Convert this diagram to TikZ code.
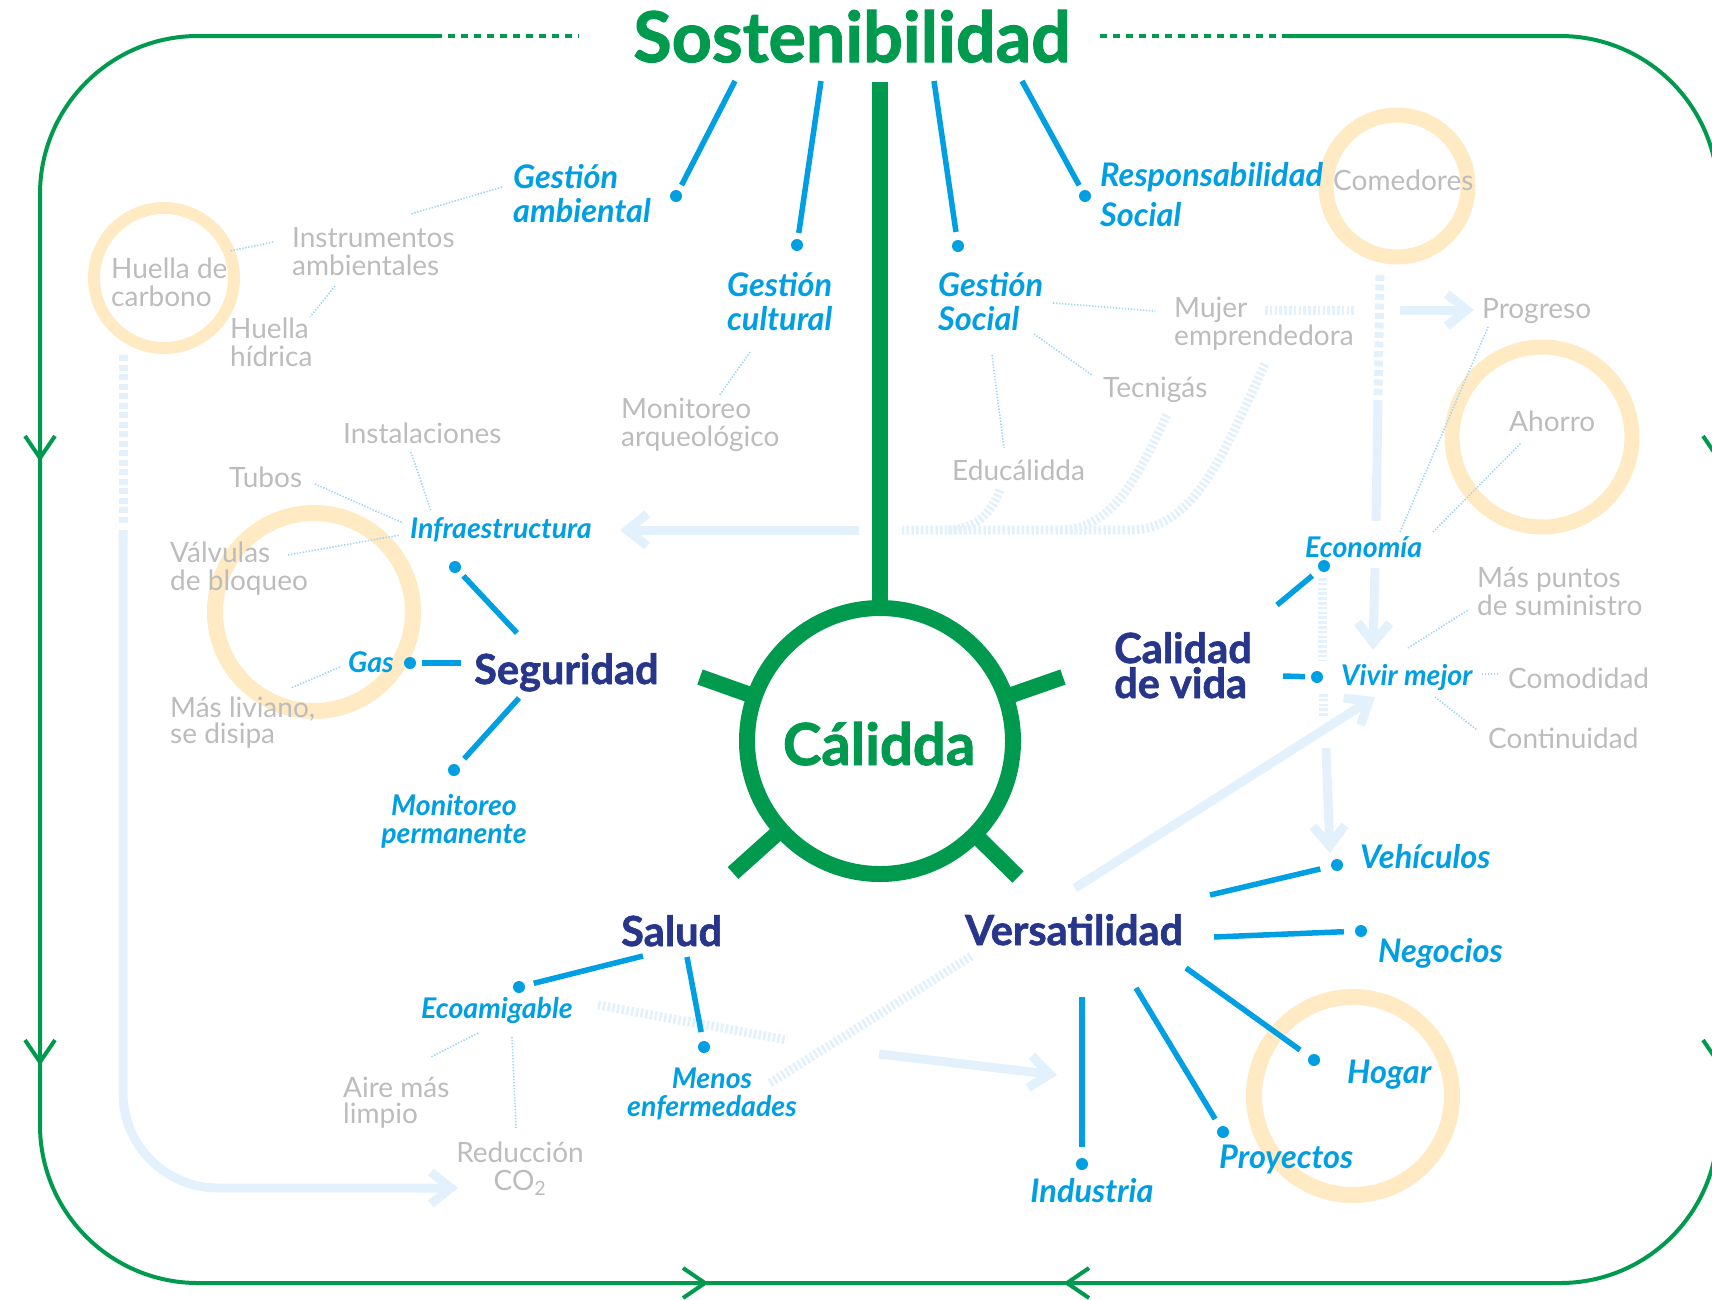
\documentclass[tikz,border=0pt]{standalone}
\usepackage{fontspec}
\setmainfont{Lato}
\newfontfamily\heavyfont{Lato}[BoldFeatures={FakeBold=1.5}]
\usetikzlibrary{calc,arrows.meta}

\definecolor{calgreen}{RGB}{0,154,78}
\definecolor{cyanb}{RGB}{0,158,226}
\definecolor{navy}{RGB}{39,54,139}
\definecolor{txtgray}{RGB}{188,188,188}
\definecolor{ringorange}{RGB}{255,234,196}
\definecolor{pale}{RGB}{226,241,252}
\definecolor{dotblue}{RGB}{160,214,243}

\newcommand\fgray{\fontsize{28}{28}\selectfont}
\newcommand\fblue{\fontsize{32.5}{34}\selectfont\bfseries\itshape}
\newcommand\fbluesm{\fontsize{28.5}{28}\selectfont\bfseries\itshape}
\newcommand\fnavy{\heavyfont\fontsize{41.5}{35}\selectfont\bfseries}
\newcommand\ftitle{\heavyfont\fontsize{70}{70}\selectfont\bfseries}
\newcommand\flogo{\heavyfont\fontsize{58}{58}\selectfont\bfseries}

\tikzset{
  frame/.style={draw=calgreen, line width=4pt},
  vtip/.style={frame, line join=miter, line cap=butt},
  spoke/.style={draw=calgreen, line width=16pt, line cap=butt},
  ring/.style={draw=ringorange},
  paleline/.style={draw=pale, line width=9pt},
  palehatch/.style={paleline, dash pattern=on 2.6pt off 2.2pt},
  paledash/.style={paleline, dash pattern=on 6pt off 3.5pt},
  palearrow/.style={paleline, -{Straight Barb[length=20pt,width=32pt]}},
  dotline/.style={draw=dotblue, line width=1.6pt, dash pattern=on 1.4pt off 1.6pt},
  bline/.style={draw=cyanb, line width=5.5pt, line cap=butt},
  bdot/.style={circle, fill=cyanb, inner sep=0pt, minimum size=12pt},
  graytxt/.style={font=\fgray, text=txtgray, inner sep=0pt, align=left, anchor=base west},
  bluetxt/.style={font=\fblue, text=cyanb, inner sep=0pt, align=left, anchor=base west},
  bluesm/.style={font=\fbluesm, text=cyanb, inner sep=0pt, align=left, anchor=base west},
  navytxt/.style={font=\fnavy, text=navy, inner sep=0pt, align=left, anchor=base west},
}

\begin{document}
\begin{tikzpicture}[x=1pt,y=-1pt]
\useasboundingbox (0,0) rectangle (1712,1299);
\clip (0,0) rectangle (1712,1299);

% ---------- soft orange rings ----------
\draw[ring, line width=12pt] (164,278) circle[radius=70];
\draw[ring, line width=16pt] (314,612) circle[radius=99];
\draw[ring, line width=15pt] (1397,186) circle[radius=71];
\draw[ring, line width=15pt] (1542,437) circle[radius=90];
\draw[ring, line width=16pt] (1353,1096) circle[radius=99];

% ---------- pale flow arrows ----------
\draw[paledash] (123,355) -- (123,525);
\draw[palearrow, rounded corners=95pt] (123,530) -- (123,1188) -- (458,1188);

\draw[palearrow] (859,530) -- (620,530);
\draw[palehatch] (1265,364) .. controls (1225,450) and (1195,530) .. (1130,530) -- (899,530);
\draw[palehatch] (1167,415) .. controls (1140,470) and (1115,530) .. (1060,530);
\draw[palehatch] (1000,490) .. controls (990,515) and (975,530) .. (945,530);

\draw[palehatch] (1265,310) -- (1355,310);
\draw[palearrow] (1400,310) -- (1474,310);

\draw[paledash] (1380,275) -- (1378,395);
\draw[paleline] (1378,400) -- (1376,521);
\draw[palearrow] (1375,568) -- (1373,650);

\draw[palehatch] (1322,578) -- (1322,660);
\draw[palehatch] (1323,694) -- (1323,716);

\draw[palearrow] (1075,888) -- (1375,697);
\draw[palearrow] (1326,748) -- (1330,853);

\draw[palehatch] (598,1005) -- (787,1040);
\draw[palehatch] (770,1083) -- (973,955);
\draw[palearrow] (879,1054) -- (1057,1075);

% ---------- outer cycle ----------
\draw[frame, rounded corners=158pt] (435,36) -- (40,36) -- (40,1283) -- (1718,1283) -- (1718,36) -- (1288,36);
\draw[frame, dash pattern=on 7pt off 6pt] (435,36) -- (579,36);
\draw[frame, dash pattern=on 7pt off 6pt] (1100,36) -- (1288,36);
\draw[vtip] (25,436) -- (40,458) -- (55,436);
\draw[vtip] (25,1040) -- (40,1062) -- (55,1040);
\draw[vtip] (1703,436) -- (1718,458) -- (1733,436);
\draw[vtip] (1703,1040) -- (1718,1062) -- (1733,1040);
\draw[vtip] (683,1268) -- (705,1283) -- (683,1298);
\draw[vtip] (1089,1268) -- (1067,1283) -- (1089,1298);

% ---------- titles ----------
\node[font=\ftitle, text=calgreen, anchor=base, inner sep=0pt] (title) at (852,62) {Sostenibilidad};
\node[font=\flogo, text=calgreen, anchor=base, inner sep=0pt] (logo) at (879,765) {Cálidda};

% ---------- central emblem ----------
\coordinate (C) at (880,741);
\coordinate (top) at (880,82);
\coordinate (sp1) at (700,677);
\coordinate (sp2) at (1063,677);
\coordinate (sp3) at (733,873);
\coordinate (sp4) at (1018,877);
\draw[calgreen, line width=16pt] (C) circle[radius=133];
\draw[spoke] (top) -- ($(C)!133pt!(top)$);
\foreach \s in {sp1,sp2,sp3,sp4} \draw[spoke] (\s) -- ($(C)!133pt!(\s)$);

% ---------- labels (base = last line) ----------
\node[bluetxt] (gamb) at (513,222) {Gestión\\ambiental};
\node[bluetxt] (gcult) at (727,330) {Gestión\\cultural};
\node[bluetxt] (gsoc) at (938,330) {Gestión\\Social};
\node[bluetxt, font=\fontsize{32.5}{40}\selectfont\bfseries\itshape] (rsoc) at (1100,226) {Responsabilidad\\Social};

\node[graytxt] (instr) at (292,275) {Instrumentos\\ambientales};
\node[graytxt] (hcarb) at (111,306) {Huella de\\carbono};
\node[graytxt] (hhid) at (230,366) {Huella\\hídrica};
\node[graytxt] (monarq) at (621,446) {Monitoreo\\arqueológico};
\node[graytxt] (instal) at (343,443) {Instalaciones};
\node[graytxt] (tubos) at (229,487) {Tubos};
\node[graytxt] (valv) at (170,590) {Válvulas\\de bloqueo};
\node[graytxt, font=\fontsize{28}{24}\selectfont] (masliv) at (170,743) {Más liviano,\\se disipa};
\node[graytxt] (comed) at (1333,190) {Comedores};
\node[graytxt] (mujer) at (1174,345) {Mujer\\emprendedora};
\node[graytxt] (progr) at (1482,318) {Progreso};
\node[graytxt] (tecni) at (1103,397) {Tecnigás};
\node[graytxt] (educ) at (952,480) {Educálidda};
\node[graytxt] (ahorro) at (1509,431) {Ahorro};
\node[graytxt] (maspun) at (1477,615) {Más puntos\\de suministro};
\node[graytxt] (comod) at (1508,688) {Comodidad};
\node[graytxt] (contin) at (1488,748) {Continuidad};
\node[graytxt, font=\fontsize{28}{26}\selectfont] (aire) at (343,1123) {Aire más\\limpio};
\node[graytxt, align=center, anchor=base] (reduc) at (520,1190) {Reducción\\CO\textsubscript{2}};

\node[bluesm] (infra) at (410,538) {Infraestructura};
\node[bluesm] (gas) at (348,672) {Gas};
\node[bluesm, align=center, anchor=base] (monperm) at (454,843) {Monitoreo\\permanente};
\node[bluesm] (econ) at (1305,557) {Economía};
\node[bluesm] (vivir) at (1341,685) {Vivir mejor};
\node[bluesm] (ecoam) at (421,1018) {Ecoamigable};
\node[bluesm, align=center, anchor=base] (menos) at (712,1116) {Menos\\enfermedades};

\node[bluetxt] (vehic) at (1360,868) {Vehículos};
\node[bluetxt] (negoc) at (1378,962) {Negocios};
\node[bluetxt] (hogar) at (1347,1083) {Hogar};
\node[bluetxt] (proy) at (1219,1168) {Proyectos};
\node[bluetxt, anchor=base] (indus) at (1092,1202) {Industria};

\node[navytxt] (segur) at (474,684) {Seguridad};
\node[navytxt] (calid) at (1114,698) {Calidad\\de vida};
\node[navytxt] (salud) at (621,946) {Salud};
\node[navytxt] (versat) at (965,945) {Versatilidad};

% ---------- dots ----------
\node[bdot] (dGA) at (676,196) {};
\node[bdot] (dGC) at (797,245) {};
\node[bdot] (dGS) at (958,246) {};
\node[bdot] (dRS) at (1085,196) {};
\node[bdot] (dInf) at (455,567) {};
\node[bdot] (dGas) at (410,663) {};
\node[bdot] (dMon) at (454,770) {};
\node[bdot] (dEcon) at (1324,566) {};
\node[bdot] (dViv) at (1317,677) {};
\node[bdot] (dVeh) at (1337,865) {};
\node[bdot] (dNeg) at (1361,931) {};
\node[bdot] (dHog) at (1314,1060) {};
\node[bdot] (dProy) at (1223,1132) {};
\node[bdot] (dInd) at (1082,1164) {};
\node[bdot] (dEco) at (519,987) {};
\node[bdot] (dMen) at (704,1047) {};

% ---------- blue branches ----------
\coordinate (s1) at (735,81);
\coordinate (s2) at (821,81);
\coordinate (s3) at (934,81);
\coordinate (s4) at (1022,81);
\draw[bline, shorten >=6pt] (s1) -- (dGA);
\draw[bline, shorten >=6pt] (s2) -- (dGC);
\draw[bline, shorten >=8pt] (s3) -- (dGS);
\draw[bline, shorten >=6pt] (s4) -- (dRS);

\coordinate (g1) at (517,633);
\coordinate (g2) at (461,663);
\coordinate (g3) at (519,698);
\draw[bline, shorten >=6pt] (g1) -- (dInf);
\draw[bline, shorten >=6pt] (g2) -- (dGas);
\draw[bline, shorten >=9pt] (g3) -- (dMon);

\coordinate (c1) at (1277,605);
\coordinate (c2) at (1283,676);
\draw[bline, shorten >=9pt] (c1) -- (dEcon);
\draw[bline, shorten >=6pt] (c2) -- (dViv);

\coordinate (v1) at (1210,895);
\coordinate (v2) at (1214,937);
\coordinate (v3) at (1186,968);
\coordinate (v4) at (1136,988);
\coordinate (v5) at (1082,997);
\draw[bline, shorten >=11pt] (v1) -- (dVeh);
\draw[bline, shorten >=11pt] (v2) -- (dNeg);
\draw[bline, shorten >=11pt] (v3) -- (dHog);
\draw[bline, shorten >=9pt] (v4) -- (dProy);
\draw[bline, shorten >=11pt] (v5) -- (dInd);

\coordinate (h1) at (643,956);
\coordinate (h2) at (687,957);
\draw[bline, shorten >=9pt] (h1) -- (dEco);
\draw[bline, shorten >=9pt] (h2) -- (dMen);

% ---------- fine dotted links ----------
\coordinate (a1) at (502,187);  \coordinate (b1) at (411,214);
\coordinate (a2) at (273,242);  \coordinate (b2) at (230,251);
\coordinate (a3) at (335,286);  \coordinate (b3) at (310,317);
\coordinate (a4) at (750,352);  \coordinate (b4) at (719,396);
\coordinate (a5) at (411,452);  \coordinate (b5) at (431,511);
\coordinate (a6) at (315,484);  \coordinate (b6) at (403,523);
\coordinate (a7) at (288,555);  \coordinate (b7) at (400,535);
\coordinate (a8) at (340,667);  \coordinate (b8) at (291,688);
\coordinate (a9) at (1053,303); \coordinate (b9) at (1155,311);
\coordinate (a10) at (1034,334); \coordinate (b10) at (1092,375);
\coordinate (a11) at (992,355); \coordinate (b11) at (1004,448);
\coordinate (a12) at (1400,532); \coordinate (b12) at (1488,327);
\coordinate (a13) at (1433,532); \coordinate (b13) at (1521,443);
\coordinate (a14) at (1408,648); \coordinate (b14) at (1468,610);
\coordinate (a15) at (1482,674); \coordinate (b15) at (1499,674);
\coordinate (a16) at (1435,697); \coordinate (b16) at (1477,730);
\coordinate (a17) at (478,1033); \coordinate (b17) at (431,1057);
\coordinate (a18) at (512,1037); \coordinate (b18) at (516,1128);
\foreach \i in {1,...,18} \draw[dotline] (a\i) -- (b\i);

\end{tikzpicture}
\end{document}
